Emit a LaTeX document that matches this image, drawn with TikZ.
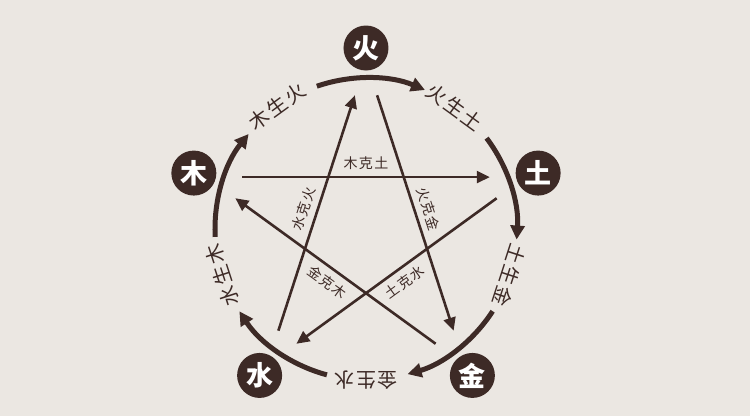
\documentclass[tikz,border=0pt]{standalone}
\usepackage{fontspec}
\newfontfamily\cjk{Noto Sans CJK SC}
\newfontfamily\cjkwide{Noto Sans CJK SC}[LetterSpace=10]
\usetikzlibrary{arrows.meta}
\definecolor{paper}{HTML}{EBE7E2}
\definecolor{ink}{HTML}{3D2A26}
\tikzset{
	element/.style={circle,fill=ink,text=white,minimum size=45pt,inner sep=0pt,font=\cjk\bfseries\fontsize{27}{27}\selectfont},
	cycle/.style={draw=ink,line width=5pt,-{Triangle[length=14pt,width=14pt]}},
	restrain/.style={draw=ink,line width=2.6pt,-{Triangle[length=13pt,width=12pt]},shorten <=36pt,shorten >=36pt},
	cyclelabel/.style={text=ink,inner sep=0pt,font=\cjkwide\fontsize{20}{20}\selectfont},
	restrainlabel/.style={text=ink,inner sep=6pt,sloped,font=\cjkwide\fontsize{14}{14}\selectfont}
}
\begin{document}
\begin{tikzpicture}[x=1pt,y=1pt]
	\useasboundingbox[fill=paper] (-366,-187) rectangle (384,229);

	%Points where the arcs of the ring start
	\coordinate (shui-out) at (183:151);
	\coordinate (mu-out) at (109:151);
	\coordinate (huo-out) at (37:151);
	\coordinate (tu-out) at (-33:151);
	\coordinate (jin-out) at (-105:151);

	%Draw the ring
	\draw [cycle] (shui-out) arc [start angle=183,end angle=141,radius=151];
	\draw [cycle] (mu-out) arc [start angle=109,end angle=67,radius=151];
	\draw [cycle] (huo-out) arc [start angle=37,end angle=-4,radius=151];
	\draw [cycle] (tu-out) arc [start angle=-33,end angle=-74,radius=151];
	\draw [cycle] (jin-out) arc [start angle=-105,end angle=-147,radius=151];

	%Labels on the ring
	\node [cyclelabel,rotate=36] (mu-sheng) at (126:151) {木生火};
	\node [cyclelabel,rotate=-36] (huo-sheng) at (54:151) {火生土};
	\node [cyclelabel,rotate=-108] (tu-sheng) at (-18:151) {土生金};
	\node [cyclelabel,rotate=180] (jin-sheng) at (-90:151) {金生水};
	\node [cyclelabel,rotate=108] (shui-sheng) at (-162:151) {水生木};

	%Corners of the star
	\coordinate (v-huo) at (90:168);
	\coordinate (v-mu) at (162:168);
	\coordinate (v-tu) at (18:168);
	\coordinate (v-jin) at (-54:168);
	\coordinate (v-shui) at (-126:168);

	%Draw the star
	\draw [restrain] (v-mu) -- node [restrainlabel,above] (mu-ke) {木克土} (v-tu);
	\draw [restrain] (v-shui) -- node [restrainlabel,above] (shui-ke) {水克火} (v-huo);
	\draw [restrain] (v-huo) -- node [restrainlabel,above] (huo-ke) {火克金} (v-jin);
	\draw [restrain] (v-tu) -- node [restrainlabel,below] (tu-ke) {土克水} (v-shui);
	\draw [restrain] (v-jin) -- node [restrainlabel,below] (jin-ke) {金克木} (v-mu);

	%The five elements
	\node [element] (huo) at (90:181) {火};
	\node [element] (mu) at (162:181) {木};
	\node [element] (tu) at (18:181) {土};
	\node [element] (jin) at (-54:181) {金};
	\node [element] (shui) at (-126:181) {水};
\end{tikzpicture}
\end{document}
